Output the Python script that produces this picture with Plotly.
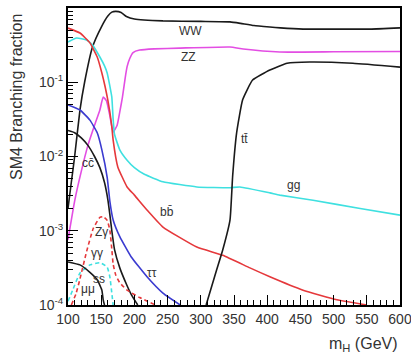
import numpy as np
import plotly.graph_objects as go

# ---- data (mH in GeV, branching fractions) ----
ww_m = [100, 105, 110, 118, 125, 137, 150, 160, 166, 172, 180, 188, 200, 243, 300, 344, 360, 380, 404, 420, 454, 505, 555, 600]
ww_b = [2.0e-3, 4.5e-3, 1.0e-2, 4.2e-2, 0.10, 0.30, 0.55, 0.78, 0.88, 0.90, 0.87, 0.77, 0.71, 0.67, 0.66, 0.65, 0.62, 0.58, 0.555, 0.54, 0.52, 0.52, 0.52, 0.54]

zz_m = [100, 110, 120, 130, 140, 148, 153, 158, 163, 168, 174, 178, 182, 186, 189, 193, 198, 208, 230, 268, 344, 364, 419, 500, 600]
zz_lb = [-3.12, -2.6, -2.2, -1.85, -1.58, -1.374, -1.2, -1.25, -1.45, -1.67, -1.58, -1.40, -1.2, -0.95, -0.79, -0.68, -0.6, -0.566, -0.55, -0.54, -0.525, -0.552, -0.593, -0.59, -0.585]

gg_m = [100, 113, 128, 137, 148, 155, 159, 163, 166, 168, 170, 178, 189, 200, 215, 243, 294, 344, 359, 404, 419, 469, 540, 600]
gg_lb = [-0.458, -0.404, -0.43, -0.5, -0.66, -0.78, -0.875, -1.05, -1.2, -1.5, -1.7, -1.91, -2.05, -2.15, -2.24, -2.34, -2.41, -2.42, -2.41, -2.49, -2.52, -2.59, -2.70, -2.79]

bb_m = [100, 118, 133, 144, 151, 156, 160, 163, 166, 168, 175, 189, 200, 219, 243, 294, 333, 374, 404, 454, 505, 550]
bb_lb = [-0.27, -0.337, -0.47, -0.66, -0.875, -1.064, -1.24, -1.4, -1.6, -1.78, -2.14, -2.41, -2.52, -2.72, -2.95, -3.22, -3.33, -3.5, -3.62, -3.80, -3.93, -4.0]

tt_m = [308, 324, 333, 344, 348, 354, 363, 378, 404, 430, 464, 529, 600]
tt_b = [1.0e-4, 3.0e-4, 5.5e-4, 1.4e-3, 5.5e-3, 0.021, 0.058, 0.107, 0.146, 0.18, 0.187, 0.18, 0.16]

cc_m = [100, 110, 120, 130, 140, 148, 155, 160, 163, 166, 170, 178, 188, 196, 205]
cc_lb = [-1.65, -1.68, -1.75, -1.85, -2.0, -2.15, -2.35, -2.58, -2.78, -3.0, -3.25, -3.5, -3.72, -3.87, -4.0]

tau_m = [100, 118, 133, 144, 151, 159, 163, 168, 178, 195, 219, 243, 269]
tau_lb = [-1.306, -1.374, -1.51, -1.68, -1.91, -2.28, -2.6, -2.855, -3.08, -3.35, -3.62, -3.84, -4.0]

zg_m = [105, 112, 118, 128, 138, 148, 153, 159, 163, 166, 168, 172, 178, 189, 208, 232]
zg_lb = [-4.0, -3.85, -3.65, -3.28, -2.97, -2.82, -2.81, -2.86, -2.99, -3.25, -3.45, -3.6, -3.7, -3.8, -3.9, -4.0]

aa_m = [100, 107, 118, 133, 148, 159, 163, 166, 168]
aa_lb = [-3.95, -3.8, -3.57, -3.46, -3.43, -3.49, -3.62, -3.84, -4.0]

mu_m = [100, 118, 133, 144, 151, 153, 155]
mu_lb = [-3.42, -3.46, -3.56, -3.66, -3.8, -3.93, -4.0]

labels = ["WW", "ZZ", "tt\u0304", "gg", "bb\u0304", "\u03c4\u03c4", "cc\u0304", "Z\u03b3", "\u03b3\u03b3", "ss", "\u03bc\u03bc"]
label_m = [285, 281, 366, 440, 249, 226, 130, 151, 144, 147, 130]
label_lb = [-0.31, -0.66, -1.764, -2.38, -2.75, -3.57, -2.09, -3.02, -3.3, -3.65, -3.78]

ytick_vals = [1e-4, 1e-3, 1e-2, 1e-1, 1]
ytick_text = ["10<sup>-4</sup>", "10<sup>-3</sup>", "10<sup>-2</sup>", "10<sup>-1</sup>", "1\u2007"]
xtick_vals = [100, 150, 200, 250, 300, 350, 400, 450, 500, 550, 600]

RED = "#e5383b"
BLUE = "#3b3bd0"
CYAN = "#3fe0e0"
MAG = "#e34ee3"
BLK = "#1a1a1a"

def pw(v):
    return list(np.power(10.0, np.array(v)))

fig = go.Figure()
series = [
    (ww_m, ww_b, BLK, "solid"),
    (zz_m, pw(zz_lb), MAG, "solid"),
    (gg_m, pw(gg_lb), CYAN, "solid"),
    (bb_m, pw(bb_lb), RED, "solid"),
    (tt_m, tt_b, BLK, "solid"),
    (cc_m, pw(cc_lb), BLK, "solid"),
    (tau_m, pw(tau_lb), BLUE, "solid"),
    (zg_m, pw(zg_lb), RED, "4px,3px"),
    (aa_m, pw(aa_lb), CYAN, "4px,3px"),
    (mu_m, pw(mu_lb), BLK, "solid"),
]
for xs, ys, col, dash in series:
    fig.add_trace(go.Scatter(x=xs, y=ys, mode="lines",
                             line=dict(color=col, width=1.6, dash=dash, shape="spline", smoothing=0.4),
                             showlegend=False, hoverinfo="skip"))

for t, xm, yl in zip(labels, label_m, label_lb):
    fig.add_annotation(x=xm, y=yl, xref="x", yref="y", text=t, showarrow=False,
                       font=dict(size=12, color="#333"))

FONT = "Liberation Sans, Arial, sans-serif"
fig.add_annotation(x=-0.157, y=0.70, xref="paper", yref="paper", text="SM4 Branching fraction",
                   textangle=-90, xanchor="center", yanchor="middle", showarrow=False,
                   font=dict(size=16, color="#333"))
fig.add_annotation(x=1.0, y=-0.095, xref="paper", yref="paper", text="m<sub>H</sub> (GeV)",
                   xanchor="right", yanchor="top", showarrow=False, font=dict(size=16, color="#333"))

fig.update_layout(
    width=411, height=358,
    margin=dict(l=68, r=11, t=8, b=53),
    paper_bgcolor="white", plot_bgcolor="white",
    font=dict(family=FONT, color="#333", size=14),
)
fig.update_xaxes(range=[100, 600], tickvals=xtick_vals, ticks="inside", ticklen=10, tickwidth=1.3,
                 tickcolor="black", showline=True, linecolor="black", linewidth=2, mirror=True,
                 showgrid=False, zeroline=False, ticklabeloverflow="allow", automargin=False,
                 minor=dict(ticks="inside", ticklen=5, dtick=10, tickcolor="black", tickwidth=1.2, showgrid=False),
                 tickfont=dict(size=14))
fig.update_yaxes(type="log", range=[-4, 0], tickvals=ytick_vals, ticktext=ytick_text, ticks="inside",
                 ticklen=10, tickwidth=1.3, tickcolor="black", showline=True, linecolor="black", linewidth=2,
                 mirror=True, showgrid=False, zeroline=False, automargin=False,
                 minor=dict(ticks="inside", ticklen=5, dtick="D1", tickcolor="black", tickwidth=1.2, showgrid=False),
                 tickfont=dict(size=14))

fig.write_html("out.html")
